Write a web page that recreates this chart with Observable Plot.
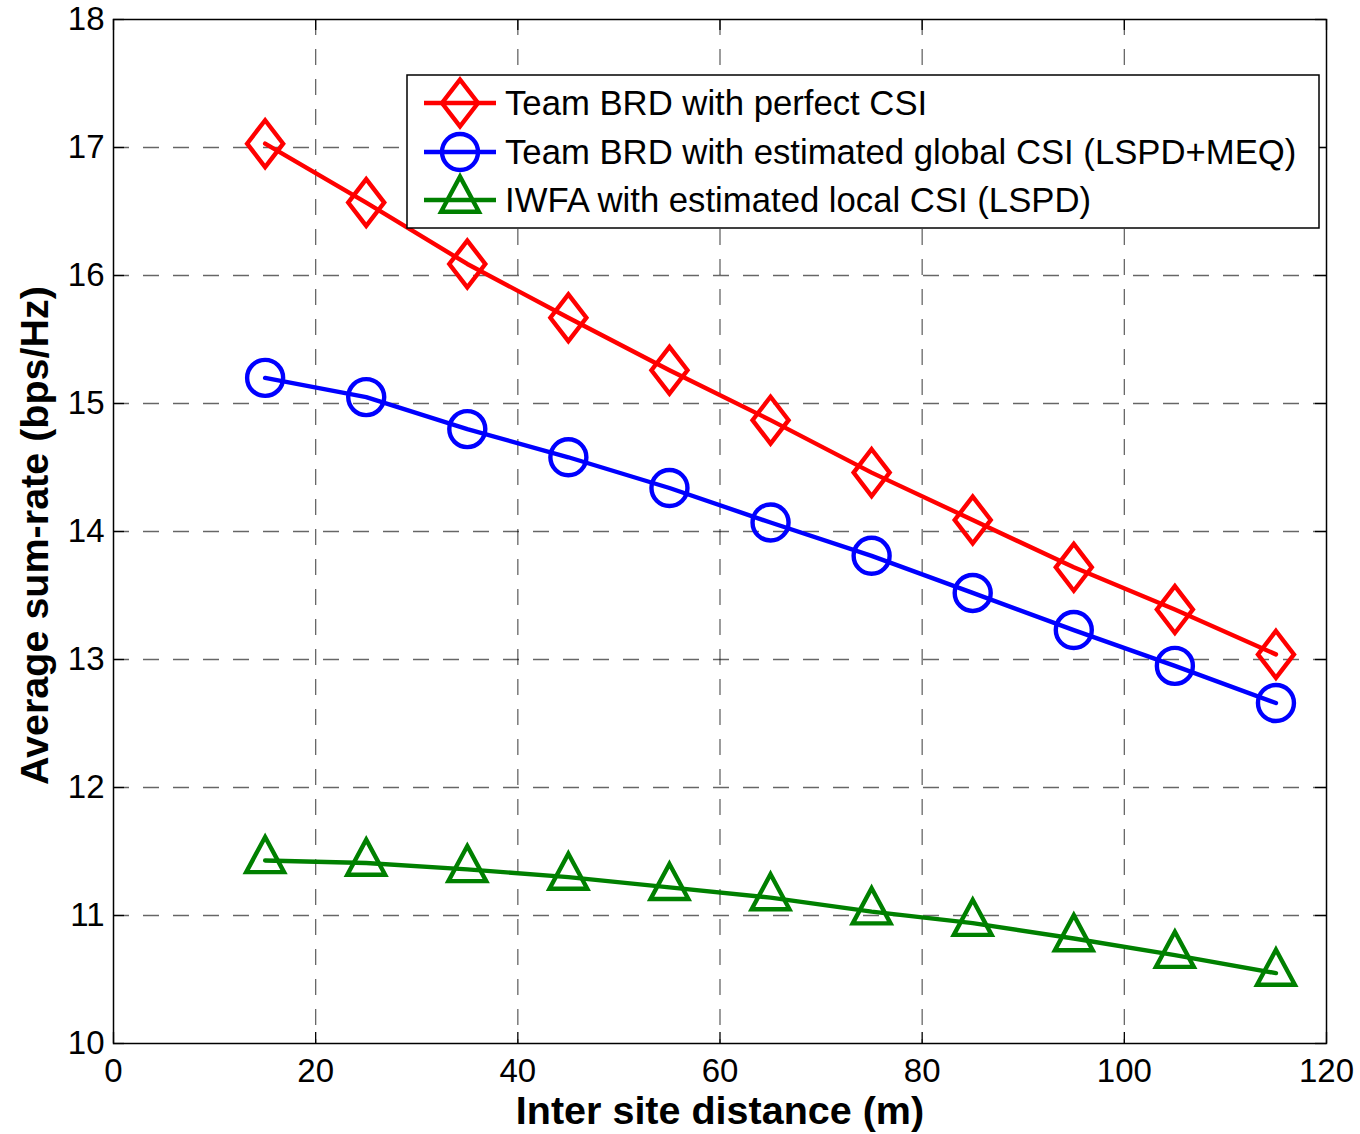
<!DOCTYPE html>
<html><head><meta charset="utf-8">
<script src="https://cdn.jsdelivr.net/npm/d3@7"></script>
<script src="https://cdn.jsdelivr.net/npm/@observablehq/plot@0.6"></script>
<style>
body{margin:0;background:#fff;}
#chart{position:relative;width:1360px;height:1134px;}
#chart svg{font-family:"Liberation Sans",Arial,Helvetica,sans-serif;}
#legend{position:absolute;left:406px;top:74px;}
</style></head><body><div id="chart"></div>
<script>
const distance=[15,25,35,45,55,65,75,85,95,105,115];
const perfectCSI=[17.03,16.57,16.09,15.67,15.26,14.87,14.46,14.09,13.72,13.39,13.04];
const globalCSI=[15.20,15.05,14.80,14.58,14.34,14.07,13.81,13.52,13.23,12.95,12.66];
const localCSI=[11.43,11.41,11.36,11.30,11.22,11.14,11.03,10.94,10.82,10.69,10.55];
const seriesNames=["Team BRD with perfect CSI","Team BRD with estimated global CSI (LSPD+MEQ)","IWFA with estimated local CSI (LSPD)"];
const seriesColors=["#ff0000","#0000ff","#008000"];
const xTicks=[0,20,40,60,80,100,120];
const yTicks=[10,11,12,13,14,15,16,17,18];
const xLabel="Inter site distance (m)";
const yLabel="Average sum-rate (bps/Hz)";

const diamond={draw(c,size){const r=Math.sqrt(size/Math.PI);c.moveTo(0,-1.3*r);c.lineTo(r,0);c.lineTo(0,1.3*r);c.lineTo(-r,0);c.closePath();}};
const circle={draw(c,size){const r=Math.sqrt(size/Math.PI);c.moveTo(r,0);c.arc(0,0,r,0,2*Math.PI);c.closePath();}};
const triangle={draw(c,size){const r=Math.sqrt(size/Math.PI);c.moveTo(0,-1.3*r);c.lineTo(1.05*r,0.65*r);c.lineTo(-1.05*r,0.65*r);c.closePath();}};
const symbols=[diamond,circle,triangle];
const allValues=[perfectCSI,globalCSI,localCSI];

const data=allValues.flatMap((vals,k)=>distance.map((d,i)=>({x:d,y:vals[i],s:seriesNames[k]})));

const W=1360,H=1134,mL=113,mR=34,mT=19,mB=91;
const pw=W-mL-mR, ph=H-mT-mB;
const SW=4.4;
const gridStyle={stroke:"#000",strokeOpacity:0.6,strokeWidth:1.3,strokeDasharray:"16,14"};
const fontFam="'Liberation Sans',Arial,Helvetica,sans-serif";

const plot=Plot.plot({
  width:W,height:H,marginLeft:mL,marginRight:mR,marginTop:mT,marginBottom:mB,
  x:{domain:[0,120]},
  y:{domain:[10,18]},
  color:{domain:seriesNames,range:seriesColors},
  style:{fontSize:"33px",fontFamily:fontFam,color:"#000",background:"#fff"},
  marks:[
    Plot.gridX(xTicks.slice(1,-1),gridStyle),
    Plot.gridY(yTicks.slice(1,-1),gridStyle),
    Plot.tickX(xTicks,{x:d=>d,insetTop:ph-11,stroke:"#000",strokeWidth:1.3}),
    Plot.tickX(xTicks,{x:d=>d,insetBottom:ph-11,stroke:"#000",strokeWidth:1.3}),
    Plot.tickY(yTicks,{y:d=>d,insetRight:pw-11,stroke:"#000",strokeWidth:1.3}),
    Plot.tickY(yTicks,{y:d=>d,insetLeft:pw-11,stroke:"#000",strokeWidth:1.3}),
    Plot.axisX({ticks:xTicks,tickSize:0,tickPadding:15,label:null,tickFormat:d=>String(d)}),
    Plot.axisY({ticks:yTicks,tickSize:0,tickPadding:9,label:null,tickFormat:d=>String(d)}),
    Plot.text([xLabel],{text:d=>d,frameAnchor:"bottom",textAnchor:"middle",lineAnchor:"middle",dy:68,fontSize:39.5,fontWeight:"bold",fill:"#000"}),
    Plot.text([yLabel],{text:d=>d,frameAnchor:"left",textAnchor:"middle",lineAnchor:"middle",rotate:-90,dx:-78,dy:4,fontSize:39.5,fontWeight:"bold",fill:"#000"}),
    Plot.frame({stroke:"#000",strokeWidth:1.5}),
    Plot.line(data,{x:"x",y:"y",z:"s",stroke:"s",strokeWidth:SW}),
    ...seriesNames.map((name,k)=>Plot.dot(data.filter(d=>d.s===name),{x:"x",y:"y",r:18,symbol:symbols[k],stroke:seriesColors[k],strokeWidth:SW,fill:"none"}))
  ]
});
const chart=document.getElementById("chart");
chart.appendChild(plot);

// legend overlay
const lw=914,lh=155;
const leg=d3.create("svg").attr("id","legend").attr("width",lw).attr("height",lh)
  .style("font-family",fontFam);
leg.append("rect").attr("x",1).attr("y",1).attr("width",lw-2).attr("height",lh-2)
  .attr("fill","#fff").attr("stroke","#000").attr("stroke-width",1.5);
const rowY=[29,78,126];
const symSize=Math.PI*18*18;
seriesNames.forEach((name,k)=>{
  const g=leg.append("g").attr("transform",`translate(0,${rowY[k]})`);
  g.append("line").attr("x1",18).attr("x2",90).attr("y1",0).attr("y2",0)
    .attr("stroke",seriesColors[k]).attr("stroke-width",SW);
  g.append("path").attr("transform","translate(54,0)").attr("d",d3.symbol(symbols[k],symSize)())
    .attr("fill","none").attr("stroke",seriesColors[k]).attr("stroke-width",SW);
  g.append("text").attr("x",99).attr("y",0).attr("dy","0.35em").attr("font-size",34.7).attr("fill","#000").text(name);
});
chart.appendChild(leg.node());
</script></body></html>
